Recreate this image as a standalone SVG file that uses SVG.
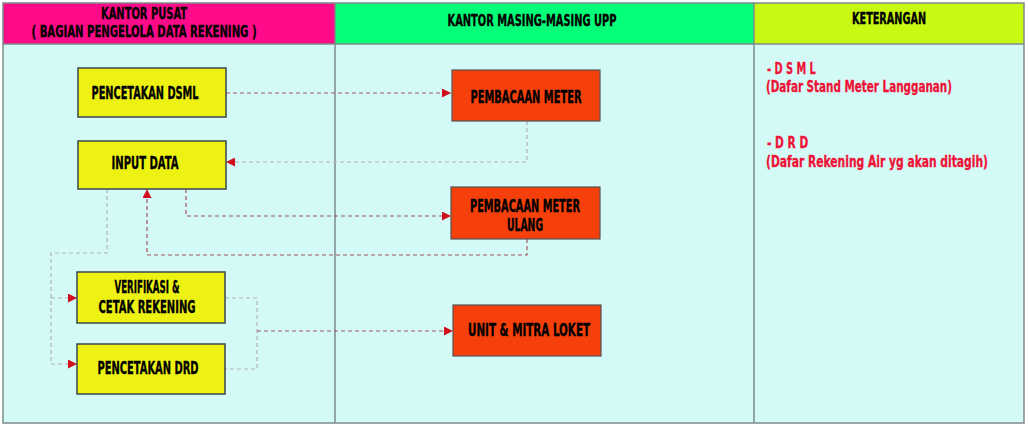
<svg xmlns="http://www.w3.org/2000/svg" width="1028" height="427" viewBox="0 0 1028 427">
<style>
.hd{font-family:"Liberation Sans Narrow","DejaVu Sans Condensed","Liberation Sans",sans-serif;font-weight:bold;font-size:16px;fill:#000;stroke:#000;stroke-width:0.35;text-anchor:middle}
.nt{font-family:"Liberation Sans Narrow","DejaVu Sans Condensed","Liberation Sans",sans-serif;font-weight:bold;font-size:17px;fill:#000;stroke:#000;stroke-width:0.35;text-anchor:middle}
.rt{font-family:"Liberation Sans Narrow","DejaVu Sans Condensed","Liberation Sans",sans-serif;font-weight:bold;font-size:15px;fill:#EE1236;stroke:#EE1236;stroke-width:0.3}
.yel{fill:#EEF212;stroke:#3A4650;stroke-width:1.5}
.org{fill:#F5400C;stroke:#555;stroke-width:1.2}
.cr{fill:none;stroke:#A8505E;stroke-width:1.2;stroke-dasharray:4,3}
.cg{fill:none;stroke:#B4AFBE;stroke-width:1.2;stroke-dasharray:4,3}
.grid{fill:none;stroke:#7E8A8A;stroke-width:1.5}
</style>
<defs>
<marker id="ah" viewBox="0 0 10 10" refX="10" refY="5" markerWidth="9" markerHeight="9" markerUnits="userSpaceOnUse" orient="auto">
<path d="M0,0 L10,5 L0,10 z" fill="#D0101C"/>
</marker>
</defs>
<rect x="0" y="0" width="1028" height="427" fill="#fff"/>
<g id="table">
<rect x="3" y="3" width="332" height="41" fill="#FF0A88"/>
<rect x="335" y="3" width="419" height="41" fill="#05FF78"/>
<rect x="754" y="3" width="270" height="41" fill="#C8F912"/>
<rect x="3" y="44" width="1021" height="379" fill="#D4FAF7"/>
<rect x="3" y="3" width="1021" height="420" class="grid"/>
<line x1="3" y1="44" x2="1024" y2="44" class="grid"/>
<line x1="335" y1="3" x2="335" y2="423" class="grid"/>
<line x1="754" y1="3" x2="754" y2="423" class="grid"/>
<text class="hd" x="144" y="19" textLength="86" lengthAdjust="spacingAndGlyphs">KANTOR PUSAT</text>
<text class="hd" x="144" y="37" textLength="225" lengthAdjust="spacingAndGlyphs">( BAGIAN PENGELOLA DATA REKENING )</text>
<text class="hd" x="532" y="26" textLength="169" lengthAdjust="spacingAndGlyphs">KANTOR MASING-MASING UPP</text>
<text class="hd" x="889" y="24" textLength="74" lengthAdjust="spacingAndGlyphs">KETERANGAN</text>
</g>
<g id="keterangan">
<text class="rt" transform="translate(767,74) scale(0.75,1)" x="0" y="0" textLength="65" lengthAdjust="spacingAndGlyphs">- D S M L</text>
<text class="rt" transform="translate(766,92) scale(0.75,1)" x="0" y="0" textLength="248" lengthAdjust="spacingAndGlyphs">(Dafar Stand Meter Langganan)</text>
<text class="rt" transform="translate(767,148) scale(0.75,1)" x="0" y="0" textLength="55" lengthAdjust="spacingAndGlyphs">- D R D</text>
<text class="rt" transform="translate(766,167) scale(0.75,1)" x="0" y="0" textLength="296" lengthAdjust="spacingAndGlyphs">(Dafar Rekening Air yg akan ditagih)</text>
</g>
<g id="connectors">
<path class="cr" d="M226,93 H451" marker-end="url(#ah)"/>
<path class="cg" d="M527,121 V162 H226" marker-end="url(#ah)"/>
<path class="cr" d="M186,189 V216 H451" marker-end="url(#ah)"/>
<path class="cr" d="M527,239 V255 H147 V189" marker-end="url(#ah)"/>
<path class="cg" d="M107,189 V253 H51 V364 H77" marker-end="url(#ah)"/>
<path class="cg" d="M51,298 H77" marker-end="url(#ah)"/>
<path class="cg" d="M225,298 H257 V369 H225"/>
<path class="cr" d="M257,331 H453" marker-end="url(#ah)"/>
</g>
<g id="n-dsml">
<rect class="yel" x="78" y="68" width="148" height="49"/>
<text class="nt" x="145" y="99" textLength="107" lengthAdjust="spacingAndGlyphs">PENCETAKAN DSML</text>
</g>
<g id="n-input">
<rect class="yel" x="78" y="141" width="148" height="48"/>
<text class="nt" x="145" y="169" textLength="67" lengthAdjust="spacingAndGlyphs">INPUT DATA</text>
</g>
<g id="n-verifikasi">
<rect class="yel" x="77" y="272" width="148" height="51"/>
<text class="nt" x="147" y="293" textLength="65" lengthAdjust="spacingAndGlyphs">VERIFIKASI &amp;</text>
<text class="nt" x="147" y="313" textLength="97" lengthAdjust="spacingAndGlyphs">CETAK REKENING</text>
</g>
<g id="n-drd">
<rect class="yel" x="77" y="344" width="148" height="50"/>
<text class="nt" x="148" y="374" textLength="101" lengthAdjust="spacingAndGlyphs">PENCETAKAN DRD</text>
</g>
<g id="n-pembacaan">
<rect class="org" x="452" y="70" width="148" height="51"/>
<text class="nt" x="526" y="103" textLength="111" lengthAdjust="spacingAndGlyphs">PEMBACAAN METER</text>
</g>
<g id="n-ulang">
<rect class="org" x="451" y="187" width="149" height="52"/>
<text class="nt" x="525" y="212" textLength="110" lengthAdjust="spacingAndGlyphs">PEMBACAAN METER</text>
<text class="nt" x="525" y="231" textLength="36" lengthAdjust="spacingAndGlyphs">ULANG</text>
</g>
<g id="n-unit">
<rect class="org" x="453" y="305" width="148" height="51"/>
<text class="nt" x="529" y="336" textLength="122" lengthAdjust="spacingAndGlyphs">UNIT &amp; MITRA LOKET</text>
</g>
</svg>
